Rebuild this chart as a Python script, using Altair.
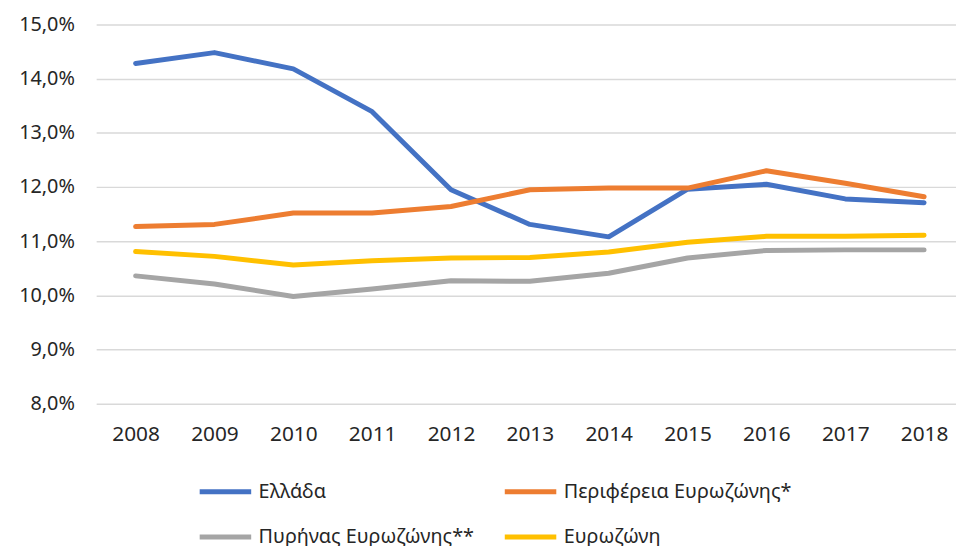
import altair as alt
import pandas as pd

years = [2008, 2009, 2010, 2011, 2012, 2013, 2014, 2015, 2016, 2017, 2018]
series_names = ["Ελλάδα", "Περιφέρεια Ευρωζώνης*", "Πυρήνας Ευρωζώνης**", "Ευρωζώνη"]
series_colors = ["#4472C4", "#ED7D31", "#A5A5A5", "#FFC000"]

greece = [14.28, 14.48, 14.18, 13.39, 11.95, 11.31, 11.08, 11.96, 12.05, 11.78, 11.71]
periphery = [11.27, 11.31, 11.52, 11.52, 11.64, 11.95, 11.98, 11.98, 12.30, 12.07, 11.82]
core = [10.36, 10.21, 9.98, 10.12, 10.27, 10.26, 10.41, 10.69, 10.83, 10.84, 10.84]
eurozone = [10.81, 10.72, 10.56, 10.64, 10.69, 10.70, 10.80, 10.98, 11.09, 11.09, 11.11]

rows = []
for name, vals in zip(series_names, [greece, periphery, core, eurozone]):
    for yr, v in zip(years, vals):
        rows.append({"year": str(yr), "value": v / 100.0, "series": name,
                     "order": series_names.index(name)})
df = pd.DataFrame(rows)

FONT = "Noto Sans"
TEXT = "#262626"

chart = alt.Chart(df).mark_line(strokeWidth=5, strokeCap="round", strokeJoin="round").encode(
    x=alt.X("year:O", title=None,
            scale=alt.Scale(type="point", padding=0.4523, align=0.553),
            axis=alt.Axis(labelAngle=0, domain=False, ticks=False, grid=False,
                          labelFontSize=21, labelFont=FONT, labelColor=TEXT,
                          labelPadding=20)),
    y=alt.Y("value:Q", title=None,
            scale=alt.Scale(domain=[0.08, 0.15], nice=False, zero=False),
            axis=alt.Axis(values=[0.08, 0.09, 0.10, 0.11, 0.12, 0.13, 0.14, 0.15],
                          labelExpr="replace(format(datum.value, '.1%'), '.', ',')",
                          domain=False, ticks=False, grid=True,
                          gridColor="#D9D9D9", gridWidth=1.5,
                          labelFontSize=20, labelFont=FONT, labelColor=TEXT,
                          labelPadding=22)),
    color=alt.Color("series:N",
                    scale=alt.Scale(domain=series_names, range=series_colors),
                    legend=alt.Legend(title=None, orient="none", legendX=102, legendY=443,
                                      direction="horizontal",
                                      columns=2, columnPadding=20, rowPadding=7,
                                      symbolType="stroke", symbolSize=2704,
                                      symbolStrokeWidth=5, labelOffset=5,
                                      labelFontSize=20, labelFont=FONT, labelColor=TEXT,
                                      padding=0, labelLimit=400)),
    detail="series:N",
    order="order:Q",
).properties(
    width=868, height=383,
    padding={"left": 10, "top": 4, "right": 0, "bottom": 0},
).configure_view(stroke=None)

chart.save("out.html", embed_options={"renderer": "svg", "actions": False})
